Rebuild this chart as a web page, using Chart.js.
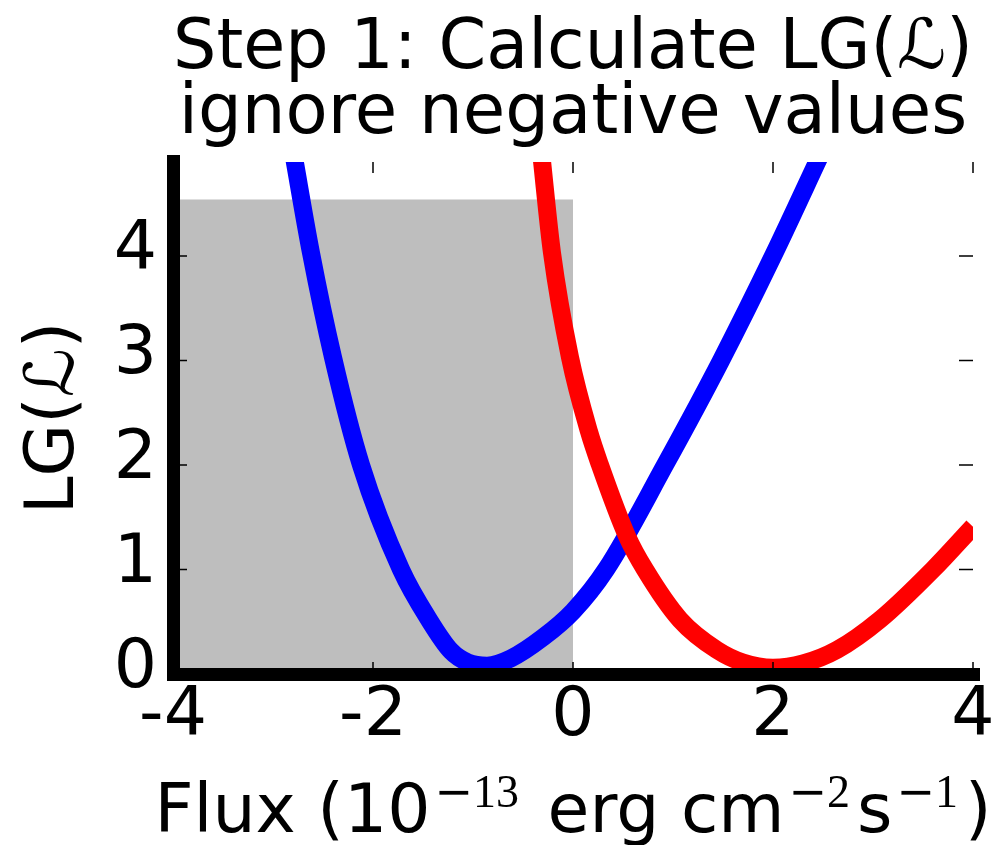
<!DOCTYPE html>
<html>
<head>
<meta charset="utf-8">
<title>Step 1: Calculate LG</title>
<script src="https://cdn.jsdelivr.net/npm/chart.js@4.4.1/dist/chart.umd.min.js"></script>
<style>
  html, body { margin: 0; padding: 0; background: #fff; }
  #wrap { width: 999px; height: 845px; }
</style>
</head>
<body>
<div id="wrap"><canvas id="lgChart"></canvas></div>
<script>
// LG(L) curves sampled along the flux axis
const blueX = [-2.80, -2.62, -2.40, -2.12, -1.72, -1.44, -1.22, -1.05, -0.86, -0.62, -0.30, 0.00, 0.33, 0.92, 1.48, 2.00, 2.49];
const blueY = [ 5.00,  4.03,  3.03,  2.00,  1.00,  0.52,  0.22,  0.11,  0.08,  0.15,  0.35, 0.60, 1.00, 2.00, 3.00, 4.00, 5.00];
const redX = [-0.32, -0.21, -0.03, 0.16, 0.27, 0.54, 0.72, 1.07, 1.44, 1.70, 2.00, 2.30, 2.64, 3.07, 3.60, 4.00];
const redY = [ 5.00,  4.03,  3.03, 2.32, 2.00, 1.32, 1.00, 0.52, 0.23, 0.11, 0.06, 0.10, 0.23, 0.52, 1.00, 1.41];

// negative flux band that gets ignored
const shadeX = [-4, 0];
const shadeTop = 4.54;

const xTicks = [-4, -2, 0, 2, 4];
const yTicks = [0, 1, 2, 3, 4];
const xRange = [-4, 4];
const yRange = [0, 4.9];

const FONT = "'DejaVu Sans', sans-serif";

function toPoints(xs, ys) {
  return xs.map((x, i) => ({ x: x, y: ys[i] }));
}

// small inward tick marks on all four sides
const innerTicks = {
  id: "innerTicks",
  afterDraw(chart) {
    const { ctx, chartArea: a, scales } = chart;
    ctx.save();
    ctx.strokeStyle = "#000";
    ctx.lineWidth = 1.5;
    ctx.beginPath();
    xTicks.forEach((v) => {
      const px = scales.x.getPixelForValue(v);
      ctx.moveTo(px, a.bottom);
      ctx.lineTo(px, a.bottom - 12);
      ctx.moveTo(px, a.top);
      ctx.lineTo(px, a.top + 11);
    });
    yTicks.forEach((v) => {
      const py = scales.y.getPixelForValue(v);
      ctx.moveTo(a.left, py);
      ctx.lineTo(a.left + 14, py);
      ctx.moveTo(a.right, py);
      ctx.lineTo(a.right - 14, py);
    });
    ctx.stroke();
    ctx.restore();
  },
};

// x axis title; exponents are a wide minus plus serif digits, raised
const xTitleParts = [
  { text: "Flux (10" },
  { minus: true, text: "13" },
  { text: " erg cm" },
  { minus: true, text: "2" },
  { text: "s" },
  { minus: true, text: "1" },
  { text: ")" },
];
const baseFont = "68px " + FONT;
const minusFont = "46px " + FONT;
const supFont = "46px 'Liberation Serif', serif";
const gapBefore = 4;
const gapAfter = 7;

const xTitle = {
  id: "xTitle",
  afterDraw(chart) {
    const { ctx, chartArea: a } = chart;
    ctx.save();
    ctx.fillStyle = "#000";
    ctx.textBaseline = "alphabetic";
    ctx.textAlign = "left";
    let total = 0;
    xTitleParts.forEach((p) => {
      if (p.minus) {
        ctx.font = minusFont;
        p.mw = ctx.measureText("\u2212").width;
        ctx.font = supFont;
        p.w = gapBefore + p.mw + ctx.measureText(p.text).width + gapAfter;
      } else {
        ctx.font = baseFont;
        p.w = ctx.measureText(p.text).width;
      }
      total += p.w;
    });
    let x = (a.left + a.right) / 2 - total / 2;
    const base = chart.height - 13;
    xTitleParts.forEach((p) => {
      if (p.minus) {
        ctx.font = minusFont;
        ctx.fillText("\u2212", x + gapBefore, base - 25);
        ctx.font = supFont;
        ctx.fillText(p.text, x + gapBefore + p.mw, base - 25);
      } else {
        ctx.font = baseFont;
        ctx.fillText(p.text, x, base);
      }
      x += p.w;
    });
    ctx.restore();
  },
};

const ctx = document.getElementById("lgChart").getContext("2d");

new Chart(ctx, {
  type: "line",
  data: {
    datasets: [
      {
        data: toPoints(redX, redY),
        borderColor: "#ff0000",
        borderWidth: 18,
        pointRadius: 0,
        cubicInterpolationMode: "monotone",
        fill: false,
        clip: 0,
      },
      {
        data: toPoints(blueX, blueY),
        borderColor: "#0000ff",
        borderWidth: 18,
        pointRadius: 0,
        cubicInterpolationMode: "monotone",
        fill: false,
        clip: 0,
      },
      {
        data: shadeX.map((x) => ({ x: x, y: shadeTop })),
        borderWidth: 0,
        backgroundColor: "#bebebe",
        pointRadius: 0,
        fill: "origin",
        clip: 0,
      },
    ],
  },
  options: {
    responsive: true,
    maintainAspectRatio: false,
    animation: false,
    layout: { padding: { left: 0, right: 26, top: 0, bottom: 0 } },
    plugins: {
      legend: { display: false },
      tooltip: { enabled: false },
      title: {
        display: true,
        fullSize: false,
        text: ["Step 1: Calculate LG(\u2112)", "ignore negative values"],
        color: "#000",
        font: { family: FONT, size: 69, weight: "normal", lineHeight: 0.942 },
        padding: { top: 17.5, bottom: 14.5 },
      },
    },
    scales: {
      x: {
        type: "linear",
        min: xRange[0],
        max: xRange[1],
        afterBuildTicks: (s) => {
          s.ticks = xTicks.map((v) => ({ value: v }));
        },
        afterFit: (s) => {
          s.height = 171;
          s.paddingLeft = 0;
          s.paddingRight = 0;
        },
        grid: { display: false, drawTicks: false, lineWidth: 13 },
        border: { display: true, color: "#000", width: 13, z: 1 },
        ticks: {
          color: "#000",
          font: { family: FONT, size: 68, lineHeight: 1 },
          padding: 9,
          maxRotation: 0,
          autoSkip: false,
        },
      },
      y: {
        type: "linear",
        min: yRange[0],
        max: yRange[1],
        afterBuildTicks: (s) => {
          s.ticks = yTicks.map((v) => ({ value: v }));
        },
        afterFit: (s) => {
          s.width = 173;
        },
        grid: { display: false, drawTicks: false, lineWidth: 13 },
        border: { display: true, color: "#000", width: 13, z: 1 },
        ticks: {
          color: "#000",
          font: { family: FONT, size: 68, lineHeight: 1 },
          padding: 16,
          labelOffset: -5,
        },
        title: {
          display: true,
          text: "LG(\u2112)",
          color: "#000",
          font: { family: FONT, size: 68, lineHeight: 1 },
          padding: { top: 21, bottom: 0 },
        },
      },
    },
  },
  plugins: [innerTicks, xTitle],
});
</script>
</body>
</html>
